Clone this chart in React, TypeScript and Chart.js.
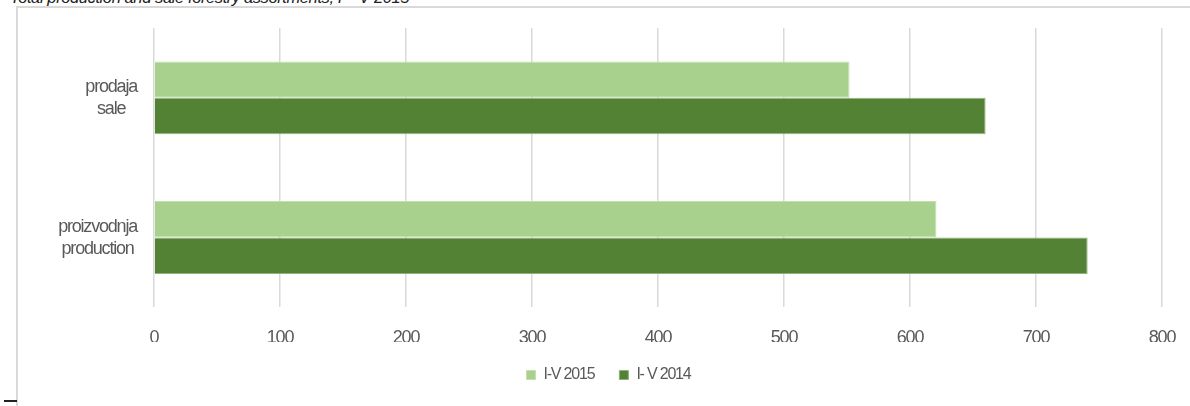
import React, { useEffect, useRef } from "react";
import { Chart, registerables } from "chart.js";

Chart.register(...registerables);

const titleText = "Total production and sale forestry assortments, I – V 2015";
const categoryLines: string[][] = [
  ["prodaja", "sale"],
  ["proizvodnja", "production"],
];
const seriesNames = ["I-V 2015", "I- V 2014"];
const values2015 = [552, 621];
const values2014 = [660, 741];
const xMin = 0;
const xMax = 800;
const xStep = 100;

const FONT = '"Liberation Sans", Arial, sans-serif';
const TEXT = "#595959";
const SPACING = "-1.2px";

const spacingPlugin = {
  id: "spacing",
  beforeLayout(chart: any) {
    chart.ctx.letterSpacing = SPACING;
  },
  beforeDraw(chart: any) {
    chart.ctx.letterSpacing = SPACING;
  },
};

const yLabelPlugin = {
  id: "yLabels",
  afterDraw(chart: any) {
    const ctx = chart.ctx;
    const y = chart.scales.y;
    ctx.save();
    ctx.font = `18px ${FONT}`;
    ctx.letterSpacing = SPACING;
    ctx.fillStyle = TEXT;
    ctx.textAlign = "center";
    ctx.textBaseline = "middle";
    categoryLines.forEach((lines, i) => {
      const cy = y.getPixelForTick(i);
      const w = Math.max(...lines.map((l) => ctx.measureText(l).width));
      const right = chart.chartArea.left - 17;
      const cx = right - w / 2;
      lines.forEach((l, j) => {
        ctx.fillText(l, cx, cy + (j - (lines.length - 1) / 2) * 22);
      });
    });
    ctx.restore();
  },
};

export default function App() {
  const ref = useRef<HTMLCanvasElement>(null);

  useEffect(() => {
    if (!ref.current) return;
    const chart = new Chart(ref.current, {
      type: "bar",
      data: {
        labels: categoryLines.map((l) => l.join(" ")),
        datasets: [
          {
            label: seriesNames[0],
            data: values2015,
            backgroundColor: "#a9d18e",
            borderColor: "#c3dfb0",
            borderWidth: 1,
          },
          {
            label: seriesNames[1],
            data: values2014,
            backgroundColor: "#548235",
            borderColor: "#8fb27a",
            borderWidth: 1,
          },
        ],
      },
      options: {
        indexAxis: "y",
        animation: false,
        responsive: false,
        datasets: {
          bar: { categoryPercentage: 0.522, barPercentage: 1 },
        },
        layout: { padding: { left: 0, right: 0, top: 19, bottom: 13 } },
        scales: {
          x: {
            min: xMin,
            max: xMax,
            ticks: {
              stepSize: xStep,
              color: TEXT,
              font: { family: FONT, size: 18 },
              padding: 20,
            },
            grid: { color: "#d9d9d9", lineWidth: 1.5, drawTicks: false },
            border: { display: false },
            afterFit(scale: any) {
              scale.height = scale.height - 27;
            },
          },
          y: {
            ticks: { display: false },
            grid: { display: false },
            border: { display: false },
            afterFit(scale: any) {
              scale.width = 136;
            },
          },
          yRight: {
            type: "linear",
            position: "right",
            display: true,
            ticks: { display: false },
            grid: { display: false },
            border: { display: false },
            afterFit(scale: any) {
              scale.width = 37;
            },
          },
        },
        plugins: {
          legend: {
            position: "bottom",
            labels: {
              boxWidth: 9,
              boxHeight: 9,
              padding: 25,
              color: TEXT,
              font: { family: FONT, size: 16 },
            },
          },
          tooltip: { enabled: false },
        },
      },
      plugins: [spacingPlugin, yLabelPlugin],
    });
    return () => chart.destroy();
  }, []);

  return (
    <div
      style={{
        position: "fixed",
        left: 0,
        top: 0,
        width: 1190,
        height: 406,
        overflow: "hidden",
        background: "#fff",
      }}
    >
      <div
        style={{
          position: "absolute",
          left: 10,
          top: -12,
          font: `italic 16.5px ${FONT}`,
          letterSpacing: "-0.4px",
          color: "#222",
          whiteSpace: "nowrap",
        }}
      >
        {titleText}
      </div>
      <div
        style={{
          position: "absolute",
          left: 16,
          top: 6,
          width: 1250,
          height: 500,
          border: "2px solid #d9d9d9",
        }}
      />
      <div
        style={{
          position: "absolute",
          left: 4,
          top: 400,
          width: 13,
          height: 2,
          background: "#222",
        }}
      />
      <canvas
        ref={ref}
        width={1181}
        height={397}
        style={{ position: "absolute", left: 18, top: 9 }}
      />
    </div>
  );
}
